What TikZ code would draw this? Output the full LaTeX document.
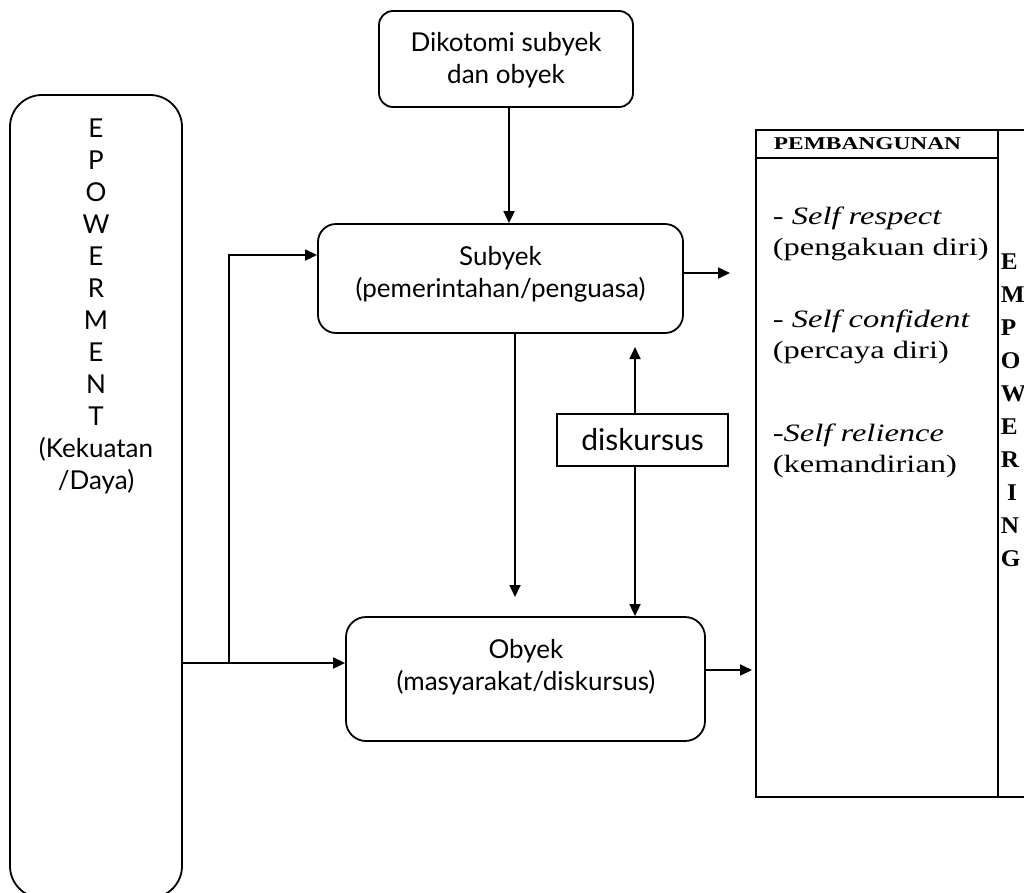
\documentclass[tikz,border=0pt]{standalone}
\usepackage{fontspec}
\setmainfont{Liberation Serif}
\newfontfamily\labfont{Lato}
\usetikzlibrary{arrows.meta}
\begin{document}
\begin{tikzpicture}[x=1pt,y=-1pt,line width=1.8pt,
  arr/.style={-{Triangle[length=12pt,width=11pt]}},
  rbox/.style={draw,rounded corners=#1,inner sep=0pt},
  sans/.style={font=\labfont\fontsize{26}{32}\selectfont,inner sep=0pt},
  serif/.style={font=\fontsize{25}{31}\selectfont,inner sep=0pt,anchor=base west}]
\useasboundingbox (0,0) rectangle (1024,892);
% boxes
\node[rbox=14pt,minimum width=254pt,minimum height=96pt] (dik) at (506,59) {};
\node[rbox=18pt,minimum width=365pt,minimum height=109pt] (sub) at (500.5,278.5) {};
\node[rbox=20pt,minimum width=359pt,minimum height=124pt] (oby) at (525.5,679) {};
\node[rbox=32pt,minimum width=172pt,minimum height=803pt] (lb) at (96,496.5) {};
\node[draw,inner sep=0pt,minimum width=171pt,minimum height=52pt,
  font=\labfont\fontsize{30}{36}\selectfont] (disk) at (642.5,440) {diskursus};
% texts
\node[sans,anchor=base] (dikt) at (506,51) {\begin{tabular}[t]{@{}c@{}}Dikotomi subyek\\dan obyek\end{tabular}};
\node[sans,anchor=base] (subt) at (500.5,265) {\begin{tabular}[t]{@{}c@{}}Subyek\\(pemerintahan/penguasa)\end{tabular}};
\node[sans,anchor=base] (obyt) at (526,658) {\begin{tabular}[t]{@{}c@{}}Obyek\\(masyarakat/diskursus)\end{tabular}};
\node[sans,anchor=base] (lbt) at (96,137) {\begin{tabular}[t]{@{}c@{}}E\\P\\O\\W\\E\\R\\M\\E\\N\\T\\(Kekuatan\\/Daya)\end{tabular}};
% table
\draw (1030,130) -- (756,130) -- (756,797) -- (1030,797);
\draw (998,130) -- (998,797);
\draw (756,158) -- (998,158);
\node[inner sep=0pt,anchor=base west,font=\bfseries\fontsize{18}{22}\selectfont] (pemb) at (773,149) {\scalebox{1.3}[1]{PEMBANGUNAN}};
\node[serif] (t1) at (772,224) {\scalebox{1.3}[1]{- \textit{Self respect}}};
\node[serif] (t2) at (772,255) {\scalebox{1.3}[1]{(pengakuan diri)}};
\node[serif] (t3) at (772,327) {\scalebox{1.3}[1]{- \textit{Self confident}}};
\node[serif] (t4) at (772,358) {\scalebox{1.3}[1]{(percaya diri)}};
\node[serif] (t5) at (772,441) {\scalebox{1.3}[1]{-\textit{Self relience}}};
\node[serif] (t6) at (772,472) {\scalebox{1.3}[1]{(kemandirian)}};
\node[inner sep=0pt,anchor=base west,font=\bfseries\fontsize{24}{33}\selectfont] (emp) at (1000,269)
  {\scalebox{1.05}[1]{\begin{tabular}[t]{@{}l@{}}E\\M\\P\\O\\W\\E\\R\\\hspace*{0.25em}I\\N\\G\end{tabular}}};
% coordinates
\coordinate (j1) at (229,663);
\coordinate (j2) at (229,255);
\coordinate (sdx) at (515,597);
\coordinate (dx) at (635,0);
\coordinate (dup) at (635,347);
\coordinate (dkx) at (509,0);
\coordinate (sr) at (730,273);
\coordinate (orr) at (752,670);
% connectors
\draw[arr] (dik.south -| dkx) -- (sub.north -| dkx);
\draw[arr] (sub.south -| sdx) -- (sdx);
\draw[arr] (disk.north -| dx) -- (dup);
\draw[arr] (disk.south -| dx) -- (oby.north -| dx);
\draw[arr] (lb.east |- j1) -- (oby.west |- j1);
\draw[arr] (j1) -- (j2) -- (sub.west |- j2);
\draw[arr] (sub.east |- sr) -- (sr);
\draw[arr] (oby.east |- orr) -- (orr);
\end{tikzpicture}
\end{document}
